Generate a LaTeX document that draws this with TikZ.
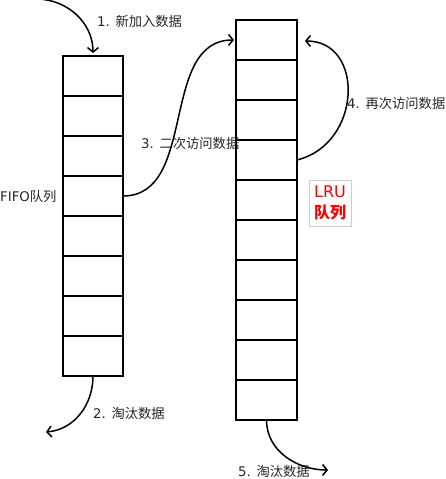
\documentclass[tikz,border=0pt]{standalone}
\usepackage{fontspec}
\setmainfont{DejaVu Sans}
\newfontfamily\cjk{Noto Sans CJK SC}
\usetikzlibrary{arrows.meta}
\begin{document}
\begin{tikzpicture}[x=1pt,y=1pt,
  cell/.style={draw=black,line width=1.5pt,minimum width=60pt,minimum height=40pt,inner sep=0pt,outer sep=0pt},
  flow/.style={draw=black,line width=1.5pt,-{Straight Barb[length=4.5pt,width=11pt,line width=1.5pt]}},
  lbl/.style={anchor=west,inner sep=0pt,font=\fontsize{13.3}{15}\selectfont,text=black!85}]
\useasboundingbox (0,0) rectangle (445,479);
% FIFO column
\foreach \i in {1,...,8} {
  \node[cell] (f\i) at (93,{403-40*(\i-1)}) {};
}
% LRU column
\foreach \i in {1,...,10} {
  \node[cell,minimum width=61pt] (l\i) at (266.5,{439-40*(\i-1)}) {};
}
% labels
\node[lbl] (t1) at (97,458) {1. {\cjk 新加入数据}};
\node[lbl] (t2) at (93,66) {2. {\cjk 淘汰数据}};
\node[lbl] (t3) at (141,336) {3. {\cjk 二次访问数据}};
\node[lbl] (t4) at (347,376) {4. {\cjk 再次访问数据}};
\node[lbl] (t5) at (238,8) {5. {\cjk 淘汰数据}};
\node[lbl] (tf) at (0,283) {FIFO{\cjk 队列}};
\node[draw=black!20,line width=0.8pt,fill=white,minimum width=42pt,minimum height=46pt,inner sep=1pt,align=center,text=red,font=\fontsize{16}{21}\selectfont] (lru) at (330,276) {LRU\\{\cjk\bfseries 队列}};
% connectors
\coordinate (s1) at (36,480);
\coordinate (e2) at (46,47);
\coordinate (e5) at (328,9);
\draw[flow] (s1) to[out=0,in=90] ([yshift=3pt]f1.north);
\draw[flow] (f8.south) to[out=-90,in=5] (e2);
\draw[flow] (f4.east) to[out=0,in=180] ([xshift=-2pt]l1.west);
\draw[flow] (l4.east) .. controls (362,335) and (365,438) .. ([xshift=8pt,yshift=-1pt]l1.east);
\draw[flow] (l10.south) to[out=-90,in=180] (e5);
\end{tikzpicture}
\end{document}
